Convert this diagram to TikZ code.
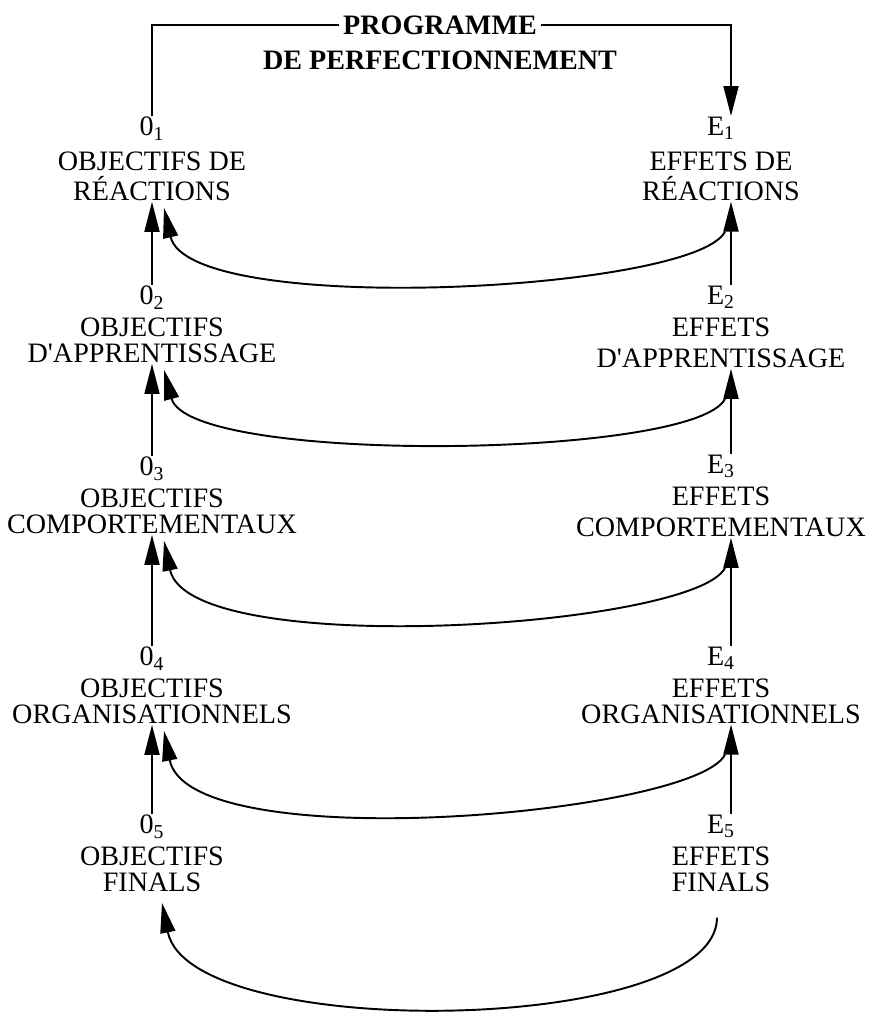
\documentclass[tikz,border=0pt]{standalone}
\usepackage{fontspec}
\setmainfont{Liberation Serif}
\usetikzlibrary{arrows.meta,calc}

\begin{document}
\begin{tikzpicture}[x=0.02cm,y=-0.02cm,line width=1.1pt,
    >={Triangle[length=0.6cm,width=0.3cm]},
    blk/.style={align=center,anchor=north,inner sep=0pt,font=\fontsize{16}{15}\selectfont},
    hd/.style={inner sep=2pt,font=\fontsize{16}{16}\selectfont\bfseries}]
  \useasboundingbox (0,0) rectangle (879,1021);
  \coordinate (rl) at (731,0);

  \node[hd] (prog) at (440,25) {PROGRAMME};
  \node[hd] (perf) at (440,60) {DE PERFECTIONNEMENT};

  \node[blk] (o1) at (152,116) {0\textsubscript{1}\\[5pt]OBJECTIFS DE\\[2pt]RÉACTIONS};
  \node[blk] (e1) at (721,116) {E\textsubscript{1}\\[5pt]EFFETS DE\\[2pt]RÉACTIONS};
  \node[blk] (o2) at (152,285) {0\textsubscript{2}\\[3pt]OBJECTIFS\\D\textquotesingle APPRENTISSAGE};
  \node[blk] (e2) at (721,285) {E\textsubscript{2}\\[3pt]EFFETS\\[3pt]D\textquotesingle APPRENTISSAGE};
  \node[blk] (o3) at (152,456) {0\textsubscript{3}\\[3pt]OBJECTIFS\\COMPORTEMENTAUX};
  \node[blk] (e3) at (721,454) {E\textsubscript{3}\\[3pt]EFFETS\\[3pt]COMPORTEMENTAUX};
  \node[blk] (o4) at (152,646) {0\textsubscript{4}\\[3pt]OBJECTIFS\\ORGANISATIONNELS};
  \node[blk] (e4) at (721,646) {E\textsubscript{4}\\[3pt]EFFETS\\ORGANISATIONNELS};
  \node[blk] (o5) at (152,814) {0\textsubscript{5}\\[3pt]OBJECTIFS\\FINALS};
  \node[blk] (e5) at (721,814) {E\textsubscript{5}\\[3pt]EFFETS\\FINALS};

  % programme
  \draw (o1.north) |- (prog.west);
  \draw[->] (prog.east) -| (e1.north -| rl);

  % montee des objectifs et des effets
  \foreach \a/\b in {2/1,3/2,4/3,5/4} {
    \draw[->] (o\a.north) -- (o\b.south);
    \draw[->] (e\a.north -| rl) -- (e\b.south -| rl);
  }

  % retour des effets vers les objectifs
  \foreach \i/\d in {1/110,2/95,3/120,4/128}
    \draw[->] ($(e\i.south -| rl)+(-6,30)$) .. controls +(-30,60) and +(25,\d) .. ($(o\i.south)+(12,6)$);
  \coordinate (e5end) at ($(e5.south -| rl)+(-14,25)$);
  \draw[->] (e5end) .. controls +(0,118) and +(28,140) .. ($(o5.south)+(10,10)$);
\end{tikzpicture}
\end{document}
